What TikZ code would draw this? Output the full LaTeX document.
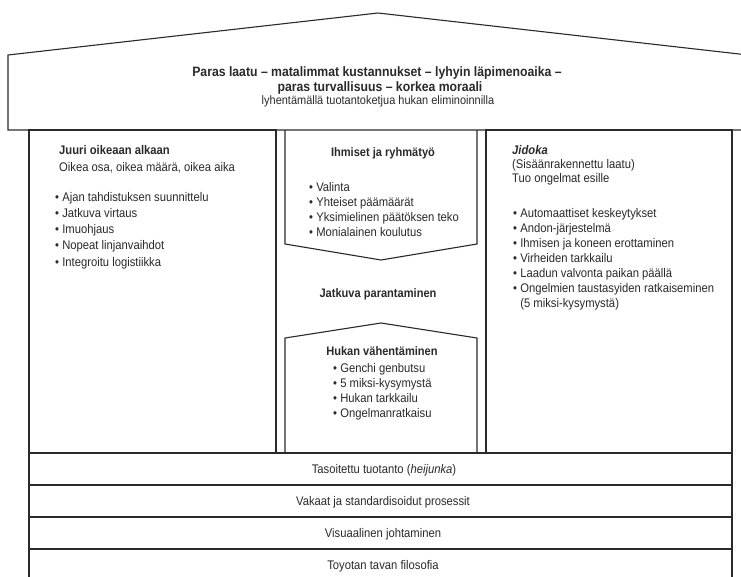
\documentclass[tikz,border=0pt]{standalone}
\usepackage{fontspec}
\setmainfont{Liberation Sans}[FakeStretch=0.9]
\definecolor{ink}{HTML}{2A2A2A}
\tikzset{
  wall/.style={draw=ink, line width=1.1pt},
  txt/.style={anchor=north west, inner sep=0pt, align=left, text=ink, font=\fontsize{12.5}{15}\selectfont},
  txtl/.style={txt, font=\fontsize{12.5}{16.25}\selectfont},
  ctxt/.style={anchor=base, inner sep=0pt, text=ink, font=\fontsize{12.5}{15}\selectfont},
  ttl/.style={ctxt, font=\fontsize{12.3}{15}\selectfont\bfseries},
  roofb/.style={anchor=base, inner sep=0pt, text=ink, font=\fontsize{13.6}{15}\selectfont\bfseries},
  roofs/.style={anchor=base, inner sep=0pt, text=ink, font=\fontsize{12.2}{13}\selectfont},
}
\begin{document}
\begin{tikzpicture}[x=1pt,y=-1pt]
\useasboundingbox (0,0) rectangle (741,576);
\clip (0,0) rectangle (741,576);
\fill[white] (0,0) rectangle (741,576);
% roof
\draw[wall, line join=miter] (8,130) -- (8,55) -- (378,13) -- (748,55) -- (748,130) -- cycle;
% pillars
\draw[wall] (29,130) rectangle (276,453);
\draw[wall] (486,130) rectangle (732,453);
% inner shapes of the middle column
\draw[wall] (285,130) -- (285,244) -- (381,260) -- (477,244) -- (477,130);
\draw[wall] (285,453) -- (285,338) -- (381,323) -- (477,338) -- (477,453);
% foundation bands
\draw[wall] (29,453) rectangle (732,485);
\draw[wall] (29,485) rectangle (732,517);
\draw[wall] (29,517) rectangle (732,549);
\draw[wall] (29,549) rectangle (732,581);

% roof text
\node[roofb] (r1) at (377,76) {Paras laatu – matalimmat kustannukset – lyhyin läpimenoaika –};
\node[roofb] (r2) at (380,91) {paras turvallisuus – korkea moraali};
\node[roofs] (r3) at (378,104) {lyhentämällä tuotantoketjua hukan eliminoinnilla};

% left pillar
\node[txt, font=\fontsize{12.5}{17}\selectfont] (lt) at (59,154-11.9) {\strut\textbf{Juuri oikeaan alkaan}\\Oikea osa, oikea määrä, oikea aika};
\node[txtl] (ll) at (55,201-11.375) {\strut• Ajan tahdistuksen suunnittelu\\• Jatkuva virtaus\\• Imuohjaus\\• Nopeat linjanvaihdot\\• Integroitu logistiikka};

% middle top
\node[ttl] (mt) at (383,156) {Ihmiset ja ryhmätyö};
\node[txt] (ml) at (309,191-10.5) {\strut• Valinta\\• Yhteiset päämäärät\\• Yksimielinen päätöksen teko\\• Monialainen koulutus};

% middle
\node[ttl] (jp) at (378,297) {Jatkuva parantaminen};

% middle bottom
\node[ttl] (hv) at (382,355) {Hukan vähentäminen};
\node[txt] (hl) at (333,372-10.5) {\strut• Genchi genbutsu\\• 5 miksi-kysymystä\\• Hukan tarkkailu\\• Ongelmanratkaisu};

% right pillar
\node[txt, font=\fontsize{12.5}{14}\selectfont] (rt) at (512,154-9.8) {\strut\textbf{\textit{Jidoka}}\\(Sisäänrakennettu laatu)\\Tuo ongelmat esille};
\node[txt, font=\fontsize{12.5}{15}\selectfont] (rl) at (513,217-10.5) {\strut• Automaattiset keskeytykset\\• Andon-järjestelmä\\• Ihmisen ja koneen erottaminen\\• Virheiden tarkkailu\\• Laadun valvonta paikan päällä\\• Ongelmien taustasyiden ratkaiseminen\\\phantom{• }(5 miksi-kysymystä)};

% bands
\node[ctxt] (b1) at (384,473) {Tasoitettu tuotanto (\textit{heijunka})};
\node[ctxt] (b2) at (383,505) {Vakaat ja standardisoidut prosessit};
\node[ctxt] (b3) at (383,537) {Visuaalinen johtaminen};
\node[ctxt] (b4) at (383,569) {Toyotan tavan filosofia};
\end{tikzpicture}
\end{document}
